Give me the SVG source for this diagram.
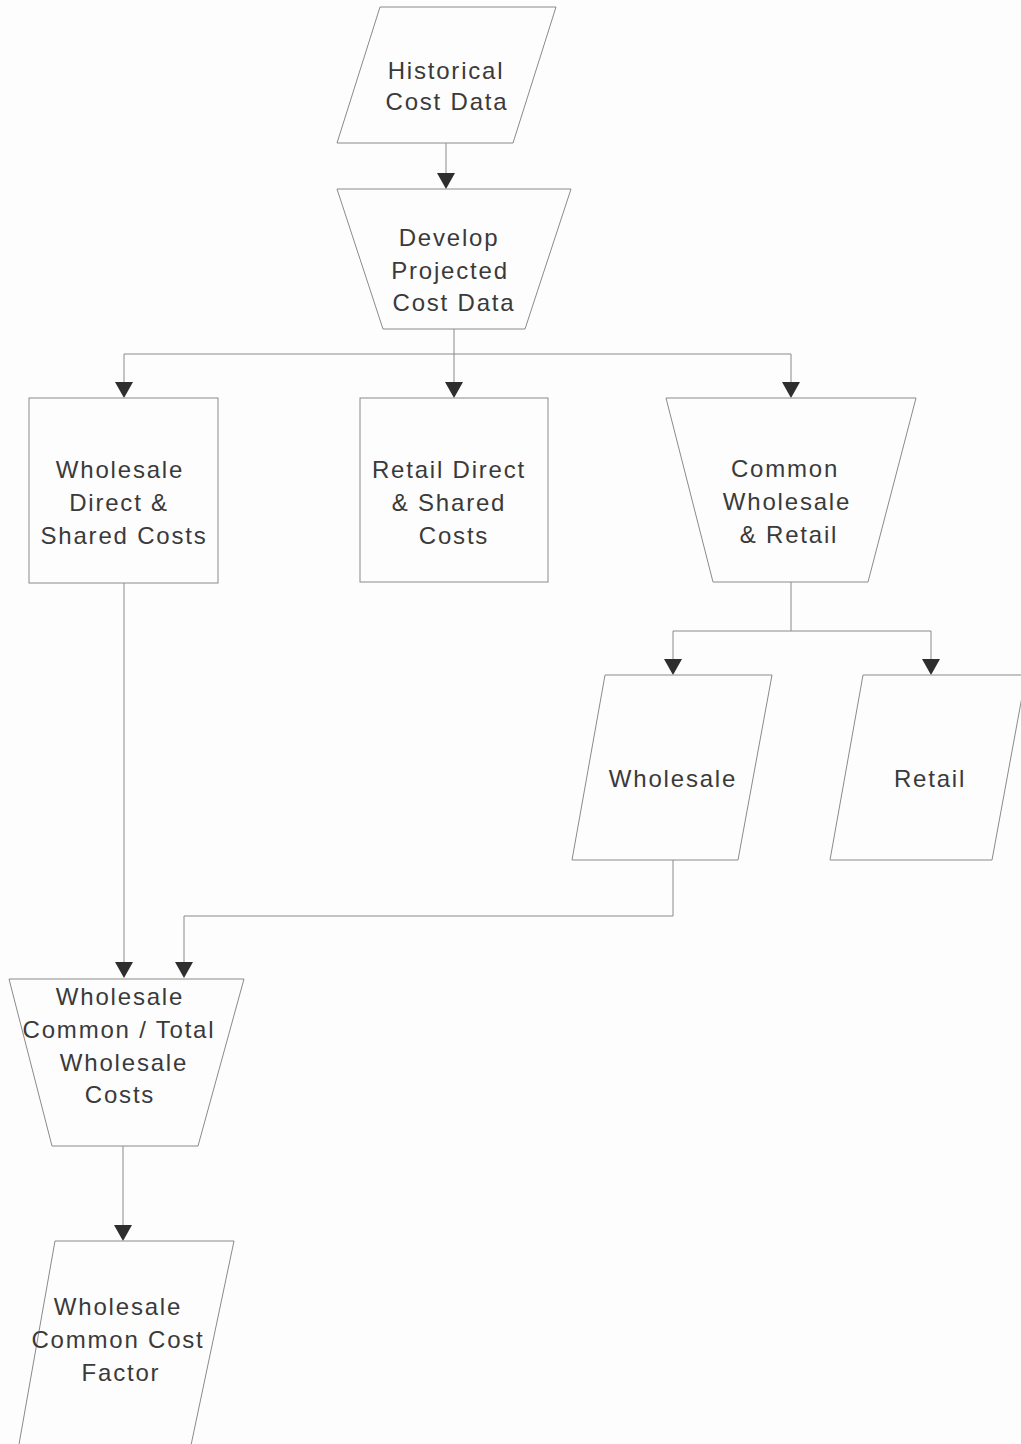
<svg xmlns="http://www.w3.org/2000/svg" width="1021" height="1444" viewBox="0 0 1021 1444">
<style>
.shape{fill:#fdfdfd;stroke:#8a8a8a;stroke-width:1}
.lbl{font-family:"Liberation Sans",Arial,sans-serif;font-size:24px;fill:#3a3a3a;text-anchor:middle;letter-spacing:1.8px}
.conn{fill:none;stroke:#8a8a8a;stroke-width:1}
.head{fill:#2e2e2e}
</style>
<rect width="1021" height="1444" fill="#fdfdfd"/>
<g id="connectors">
<path class="conn" d="M446,143 V173"/>
<polygon class="head" points="437,173 455,173 446,189"/>
<path class="conn" d="M454,329 V354 M124,354 H791 M124,354 V382 M454,354 V382 M791,354 V382"/>
<polygon class="head" points="115,382 133,382 124,398"/>
<polygon class="head" points="445,382 463,382 454,398"/>
<polygon class="head" points="782,382 800,382 791,398"/>
<path class="conn" d="M791,582 V631 M673,631 H931 M673,631 V659 M931,631 V659"/>
<polygon class="head" points="664,659 682,659 673,675"/>
<polygon class="head" points="922,659 940,659 931,675"/>
<path class="conn" d="M124,583 V962"/>
<polygon class="head" points="115,962 133,962 124,978"/>
<path class="conn" d="M673,860 V916 H184 V962"/>
<polygon class="head" points="175,962 193,962 184,978"/>
<path class="conn" d="M123,1146 V1225"/>
<polygon class="head" points="114,1225 132,1225 123,1241"/>
</g>
<g id="historical">
<polygon class="shape" points="380,7 556,7 513,143 337,143"/>
<text class="lbl" x="446" y="79">Historical</text>
<text class="lbl" x="447" y="110">Cost Data</text>
</g>
<g id="develop">
<polygon class="shape" points="337,189 571,189 525,329 383,329"/>
<text class="lbl" x="449" y="246">Develop</text>
<text class="lbl" x="450" y="279">Projected</text>
<text class="lbl" x="454" y="311">Cost Data</text>
</g>
<g id="wholesale-direct">
<rect class="shape" x="29" y="398" width="189" height="185"/>
<text class="lbl" x="120" y="478">Wholesale</text>
<text class="lbl" x="119" y="511">Direct &amp;</text>
<text class="lbl" x="124" y="544">Shared Costs</text>
</g>
<g id="retail-direct">
<rect class="shape" x="360" y="398" width="188" height="184"/>
<text class="lbl" x="449" y="478">Retail Direct</text>
<text class="lbl" x="449" y="511">&amp; Shared</text>
<text class="lbl" x="454" y="544">Costs</text>
</g>
<g id="common">
<polygon class="shape" points="666,398 916,398 868,582 713,582"/>
<text class="lbl" x="785" y="477">Common</text>
<text class="lbl" x="787" y="510">Wholesale</text>
<text class="lbl" x="789" y="543">&amp; Retail</text>
</g>
<g id="wholesale">
<polygon class="shape" points="605,675 772,675 738,860 572,860"/>
<text class="lbl" x="673" y="787">Wholesale</text>
</g>
<g id="retail">
<polygon class="shape" points="863,675 1026,675 992,860 830,860"/>
<text class="lbl" x="930" y="787">Retail</text>
</g>
<g id="wholesale-common-total">
<polygon class="shape" points="9,979 244,979 198,1146 52,1146"/>
<text class="lbl" x="120" y="1005">Wholesale</text>
<text class="lbl" x="119" y="1038">Common / Total</text>
<text class="lbl" x="124" y="1071">Wholesale</text>
<text class="lbl" x="120" y="1103">Costs</text>
</g>
<g id="factor">
<polygon class="shape" points="55,1241 234,1241 190,1450 18,1450"/>
<text class="lbl" x="118" y="1315">Wholesale</text>
<text class="lbl" x="118" y="1348">Common Cost</text>
<text class="lbl" x="121" y="1381">Factor</text>
</g>
</svg>
